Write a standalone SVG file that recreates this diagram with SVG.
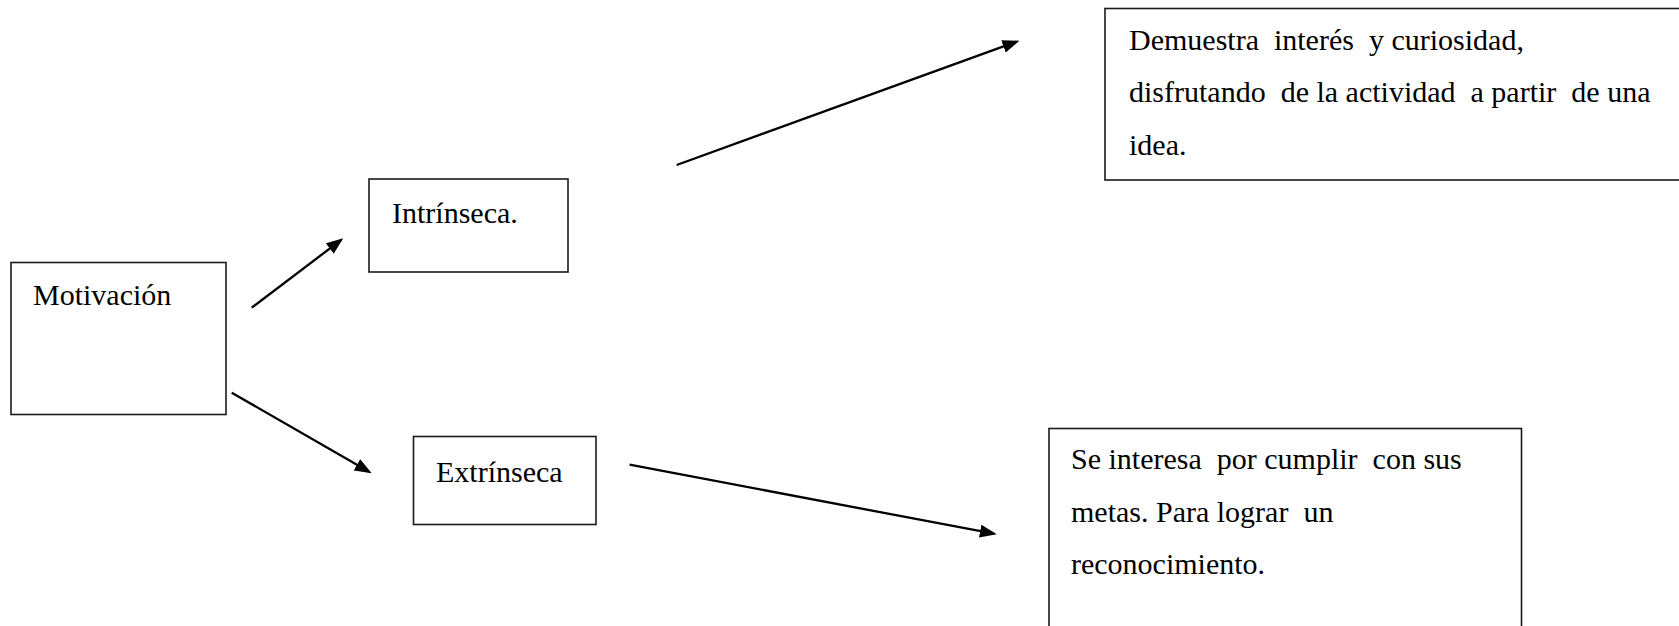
<svg xmlns="http://www.w3.org/2000/svg" width="1679" height="626" viewBox="0 0 1679 626" xml:space="preserve">
<style>
.box{fill:#fff;stroke:#1a1a1a;stroke-width:1.6}
.t{font-family:"Liberation Serif","Times New Roman",serif;font-size:30px;fill:#000;white-space:pre}
.c{fill:none;stroke:#000;stroke-width:2.3}
</style>
<defs>
<marker id="ah" viewBox="0 0 17 13" refX="14" refY="6.5" markerWidth="17" markerHeight="13" markerUnits="userSpaceOnUse" orient="auto">
<path d="M0,0 L17,6.5 L0,13 Z" fill="#000"/>
</marker>
</defs>
<rect width="1679" height="626" fill="#fff"/>
<g id="connectors">
<line class="c" x1="251.7" y1="307.7" x2="340.9" y2="240.1" marker-end="url(#ah)"/>
<line class="c" x1="231.7" y1="392.7" x2="369.1" y2="471.8" marker-end="url(#ah)"/>
<line class="c" x1="676.7" y1="165" x2="1016.6" y2="41.7" marker-end="url(#ah)"/>
<line class="c" x1="629.6" y1="464.7" x2="993.9" y2="533.7" marker-end="url(#ah)"/>
</g>
<g id="motivacion">
<rect class="box" x="11" y="262.5" width="215" height="152"/>
<text class="t" x="33" y="305">Motivación</text>
</g>
<g id="intrinseca">
<rect class="box" x="369" y="179" width="199" height="93"/>
<text class="t" x="392" y="223">Intrínseca.</text>
</g>
<g id="extrinseca">
<rect class="box" x="413.5" y="436.5" width="182.5" height="88"/>
<text class="t" x="436" y="482">Extrínseca</text>
</g>
<g id="intrinseca-desc">
<rect class="box" x="1105" y="8.5" width="600" height="171.5"/>
<text class="t" x="1129" y="50">Demuestra  interés  y curiosidad,</text>
<text class="t" x="1129" y="102">disfrutando  de la actividad  a partir  de una</text>
<text class="t" x="1129" y="155">idea.</text>
</g>
<g id="extrinseca-desc">
<rect class="box" x="1049" y="428.5" width="472.5" height="220"/>
<text class="t" x="1071" y="469">Se interesa  por cumplir  con sus</text>
<text class="t" x="1071" y="521.5">metas. Para lograr  un</text>
<text class="t" x="1071" y="574">reconocimiento.</text>
</g>
</svg>
